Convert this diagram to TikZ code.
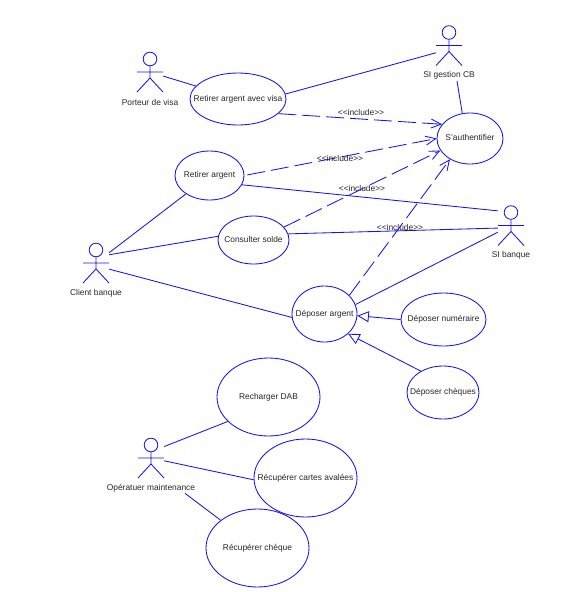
\documentclass[tikz,border=0pt]{standalone}
\usepackage{fontspec}
\setmainfont{Liberation Sans}
\usepackage{xcolor}
\usepackage{tikz}
\usetikzlibrary{shapes.geometric,arrows.meta}

\definecolor{umlblue}{RGB}{20,20,240}
\tikzset{
  link/.style={draw=umlblue, line width=0.85pt},
  includes/.style={link, dash pattern=on 18pt off 6pt, -{Straight Barb[length=10pt,width=9pt]}},
  extendsto/.style={link, -{Triangle[open,length=11.5pt,width=11pt,fill=white]}},
  usecase/.style={ellipse, draw=umlblue, line width=0.85pt, inner sep=0pt, text=black!85},
  actorbox/.style={rectangle, inner sep=0pt, minimum width=26pt, minimum height=40pt},
  tag/.style={inner sep=0pt, text=black!85},
}
% ellipse size stays fixed whatever the text width
\newcommand{\usecasenode}[6]{\node[usecase, minimum width=#4pt, minimum height=#5pt] (#1) at (#2,#3) {\makebox[0pt]{\raisebox{1.3pt}{#6}}};}
\newcommand{\actornode}[4]{
  \node[actorbox] (#1) at (#2,#3) {};
  \node[tag] (#1label) at (#2,#3+30) {#4};
  \begin{scope}[shift={(#2,#3)}, link]
    \draw (0,-13) circle (6.8pt);
    \draw (0,-6.2) -- (0,6) (-13,0) -- (13,0) (-13,20) -- (0,6) -- (13,20);
  \end{scope}
}

\begin{document}
\begin{tikzpicture}[x=1pt, y=-1pt, font=\fontsize{8.4}{10}\selectfont]
  \useasboundingbox (0,0) rectangle (566,592);
  % actors
  \actornode{porteur}{150}{72}{Porteur de visa}
  \actornode{gestion}{449}{45.5}{SI gestion CB}
  \actornode{banque}{511}{225.5}{SI banque}
  \actornode{client}{96}{263}{Client banque}
  \actornode{operateur}{151}{458}{Opératuer maintenance}
  % use cases
  \usecasenode{visa}{238}{99}{96}{52}{Retirer argent avec visa}
  \usecasenode{auth}{470}{138.5}{66}{51}{S'authentifier}
  \usecasenode{retirer}{209.5}{175.5}{69}{49}{Retirer argent}
  \usecasenode{solde}{253.5}{240}{71}{48}{Consulter solde}
  \usecasenode{depot}{324.5}{314}{65}{56}{Déposer argent}
  \usecasenode{numeraire}{443.5}{319.5}{85}{53}{Déposer numéraire}
  \usecasenode{cheques}{443}{392.5}{72}{53}{Déposer chèques}
  \usecasenode{dab}{268.5}{397}{103}{78}{Recharger DAB}
  \usecasenode{cartes}{305.5}{478}{103}{78}{Récupérer cartes avalées}
  \usecasenode{cheque}{257.5}{548}{103}{78}{Récupérer chèque}
  % free ends under the two labels
  \coordinate (gestionfoot) at (457,81);
  \coordinate (operateurfoot) at (185,493.3);
  % associations
  \draw[link] (porteur) -- (visa);
  \draw[link] (visa.6) -- (gestion.209);
  \draw[link] (gestionfoot) -- (auth.107);
  \draw[link] (client.38) -- (retirer.218);
  \draw[link] (client.32) -- (solde.174);
  \draw[link] (client.-25) -- (depot.186);
  \draw[link] (retirer.-16) -- (banque.132);
  \draw[link] (solde.10) -- (banque.191);
  \draw[link] (depot.17) -- (banque.207);
  \draw[link] (operateur.41) -- (dab.211);
  \draw[link] (operateur.-12) -- (cartes.182);
  \draw[link] (operateurfoot) -- (cheque.143);
  % includes
  \draw[includes] (visa.-20) -- (auth.153);
  \draw[includes, shorten <=3pt] (retirer.0) -- (auth.180);
  \draw[includes] (solde.23) -- (auth.202);
  \draw[includes] (depot.37) -- (auth.226);
  \node[tag] (incvisa) at (361,112) {<{}<include>{}>};
  \node[tag] (incretirer) at (340,158) {<{}<include>{}>};
  \node[tag] (incsolde) at (362,188) {<{}<include>{}>};
  \node[tag] (incdepot) at (400,227) {<{}<include>{}>};
  % generalisations
  \draw[extendsto] (numeraire.180) -- (depot.-3);
  \draw[extendsto] (cheques.136) -- (depot.-40);
\end{tikzpicture}
\end{document}
